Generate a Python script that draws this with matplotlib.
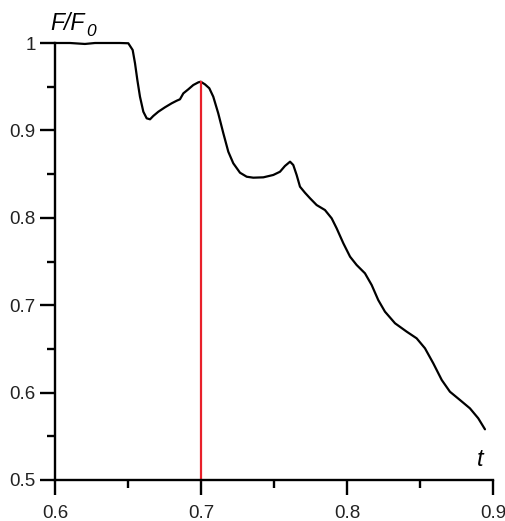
import matplotlib
matplotlib.use("Agg")
import matplotlib.pyplot as plt
from matplotlib.ticker import MultipleLocator

plt.rcParams["font.family"] = ["Liberation Sans", "DejaVu Sans"]

# normalised force vs time
t = [0.6000, 0.6103, 0.6205, 0.6274, 0.6377, 0.6445, 0.6502, 0.6532, 0.6548,
     0.6564, 0.6582, 0.6605, 0.6628, 0.6651, 0.6673, 0.6708, 0.6753, 0.6799,
     0.6834, 0.6856, 0.6879, 0.6913, 0.6947, 0.6982, 0.6998, 0.7027, 0.7057,
     0.7084, 0.7118, 0.7153, 0.7187, 0.7221, 0.7267, 0.7313, 0.7358, 0.7427,
     0.7495, 0.7541, 0.7575, 0.7610, 0.7632, 0.7655, 0.7678, 0.7712, 0.7747,
     0.7792, 0.7849, 0.7895, 0.7929, 0.7975, 0.8021, 0.8066, 0.8123, 0.8169,
     0.8214, 0.8260, 0.8329, 0.8409, 0.8477, 0.8534, 0.8591, 0.8649, 0.8705,
     0.8774, 0.8842, 0.8899, 0.8945]
f_ratio = [1.0000, 1.0000, 0.9989, 1.0000, 1.0000, 1.0000, 0.9997, 0.9920, 0.9768,
           0.9577, 0.9386, 0.9214, 0.9138, 0.9127, 0.9165, 0.9214, 0.9264, 0.9310,
           0.9340, 0.9356, 0.9424, 0.9470, 0.9519, 0.9550, 0.9557, 0.9527, 0.9482,
           0.9386, 0.9196, 0.8967, 0.8756, 0.8624, 0.8516, 0.8470, 0.8459, 0.8463,
           0.8490, 0.8527, 0.8593, 0.8642, 0.8604, 0.8490, 0.8356, 0.8287, 0.8223,
           0.8146, 0.8089, 0.7994, 0.7880, 0.7708, 0.7555, 0.7460, 0.7365, 0.7231,
           0.7059, 0.6926, 0.6793, 0.6697, 0.6621, 0.6507, 0.6335, 0.6144, 0.6010,
           0.5915, 0.5820, 0.5706, 0.5580]

# marker line at the local maximum
t_mark = 0.7
f_mark = 0.9557

fig = plt.figure(figsize=(5.05, 5.21), dpi=100)
ax = fig.add_axes([55 / 505, 1 - 480 / 521, 438 / 505, 437 / 521])

ax.plot(t, f_ratio, color="black", lw=1.6, clip_on=False,
        solid_joinstyle="round", solid_capstyle="round")
ax.plot([t_mark, t_mark], [0.5, f_mark], color="#e8202a", lw=1.6, clip_on=False)

ax.set_xlim(0.6, 0.9)
ax.set_ylim(0.5, 1.0)
ax.spines["top"].set_visible(False)
ax.spines["right"].set_visible(False)
for s in ("left", "bottom"):
    ax.spines[s].set_linewidth(1.7)

ax.xaxis.set_minor_locator(MultipleLocator(0.05))
ax.yaxis.set_minor_locator(MultipleLocator(0.05))
ax.set_xticks([0.6, 0.7, 0.8, 0.9], ["0.6", "0.7", "0.8", "0.9"])
ax.set_yticks([0.5, 0.6, 0.7, 0.8, 0.9, 1.0], ["0.5", "0.6", "0.7", "0.8", "0.9", "1"])
ax.tick_params(which="major", direction="out", length=11, width=1.7,
               labelsize=13.5, pad=3, labelcolor="#222222")
ax.tick_params(axis="x", which="major", pad=7)
ax.tick_params(which="minor", direction="out", length=6, width=1.7)

# axis labels: italic F/F with an italic subscript 0, and t
lab = fig.text(50 / 505, 1 - 23 / 521, "F/F", fontsize=16.5, style="italic",
               ha="left", va="center")
ax.annotate("0", xy=(1.0, 0.0), xycoords=lab, xytext=(1, 2),
            textcoords="offset points", fontsize=12.5, style="italic",
            ha="left", va="center", annotation_clip=False)
fig.text(480 / 505, 1 - 460 / 521, "t", fontsize=17, style="italic",
         ha="center", va="center")

fig.savefig("out.png", dpi=100)
